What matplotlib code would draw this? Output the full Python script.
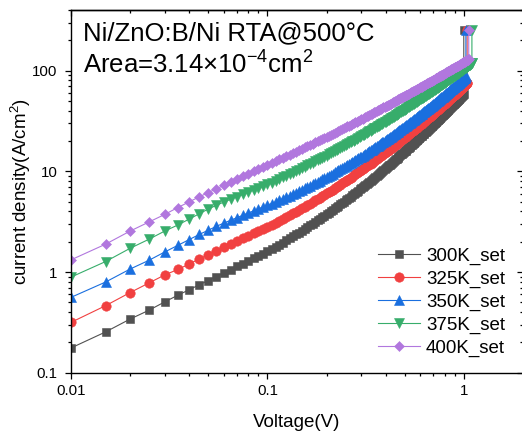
import matplotlib
matplotlib.use('Agg')
import matplotlib.pyplot as plt
from matplotlib.ticker import LogLocator, NullFormatter

plt.rcParams['font.family'] = ['Liberation Sans', 'DejaVu Sans']
plt.rcParams['mathtext.fontset'] = 'custom'
plt.rcParams['mathtext.rm'] = 'Liberation Sans'
plt.rcParams['mathtext.it'] = 'Liberation Sans:italic'

# Voltage sweep (V)
voltage = [
    0.01, 0.015, 0.02, 0.025, 0.03, 0.035, 0.04, 0.045, 0.05, 0.055, 0.06, 0.065, 0.07, 0.075, 0.08, 0.085, 0.09, 0.095,
    0.1, 0.105, 0.11, 0.115, 0.12, 0.125, 0.13, 0.135, 0.14, 0.145, 0.15, 0.155, 0.16, 0.165, 0.17, 0.175, 0.18, 0.185, 0.19, 0.195,
    0.2, 0.205, 0.21, 0.215, 0.22, 0.225, 0.23, 0.235, 0.24, 0.245, 0.25, 0.255, 0.26, 0.265, 0.27, 0.275, 0.28, 0.285, 0.29, 0.295,
    0.3, 0.305, 0.31, 0.315, 0.32, 0.325, 0.33, 0.335, 0.34, 0.345, 0.35, 0.355, 0.36, 0.365, 0.37, 0.375, 0.38, 0.385, 0.39, 0.395,
    0.4, 0.405, 0.41, 0.415, 0.42, 0.425, 0.43, 0.435, 0.44, 0.445, 0.45, 0.455, 0.46, 0.465, 0.47, 0.475, 0.48, 0.485, 0.49, 0.495,
    0.5, 0.505, 0.51, 0.515, 0.52, 0.525, 0.53, 0.535, 0.54, 0.545, 0.55, 0.555, 0.56, 0.565, 0.57, 0.575, 0.58, 0.585, 0.59, 0.595,
    0.6, 0.605, 0.61, 0.615, 0.62, 0.625, 0.63, 0.635, 0.64, 0.645, 0.65, 0.655, 0.66, 0.665, 0.67, 0.675, 0.68, 0.685, 0.69, 0.695,
    0.7, 0.705, 0.71, 0.715, 0.72, 0.725, 0.73, 0.735, 0.74, 0.745, 0.75, 0.755, 0.76, 0.765, 0.77, 0.775, 0.78, 0.785, 0.79, 0.795,
    0.8, 0.805, 0.81, 0.815, 0.82, 0.825, 0.83, 0.835, 0.84, 0.845, 0.85, 0.855, 0.86, 0.865, 0.87, 0.875, 0.88, 0.885, 0.89, 0.895,
    0.9, 0.905, 0.91, 0.915, 0.92, 0.925, 0.93, 0.935, 0.94, 0.945, 0.95, 0.955, 0.96, 0.965, 0.97, 0.975, 0.98, 0.985, 0.99, 0.995,
    1.0, 1.005, 1.01, 1.015, 1.02, 1.025, 1.03, 1.035, 1.04, 1.045, 1.05, 1.055, 1.06, 1.065, 1.07, 1.075, 1.08, 1.085, 1.09, 1.095,
    1.1,
]

# Current density (A/cm^2)
j_300K = [
    0.176, 0.254, 0.341, 0.418, 0.505, 0.588, 0.667, 0.745, 0.822, 0.902, 0.98, 1.058, 1.136, 1.214, 1.292, 1.369, 1.446, 1.523,
    1.60, 1.688, 1.778, 1.870, 1.963, 2.060, 2.158, 2.258, 2.360, 2.465,
    2.571, 2.680, 2.791, 2.904, 3.018, 3.135, 3.255, 3.378, 3.501, 3.626,
    3.754, 3.885, 4.017, 4.151, 4.288, 4.428, 4.568, 4.713, 4.858, 5.006,
    5.156, 5.308, 5.464, 5.621, 5.781, 5.941, 6.107, 6.271, 6.442, 6.612,
    6.785, 6.962, 7.141, 7.321, 7.504, 7.691, 7.877, 8.067, 8.262, 8.456,
    8.655, 8.853, 9.057, 9.262, 9.471, 9.678, 9.894, 10.11, 10.33, 10.55,
    10.77, 11.00, 11.22, 11.45, 11.68, 11.92, 12.16, 12.40, 12.65, 12.89,
    13.14, 13.39, 13.65, 13.91, 14.17, 14.43, 14.69, 14.96, 15.23, 15.50,
    15.78, 16.06, 16.34, 16.62, 16.91, 17.20, 17.50, 17.79, 18.09, 18.39,
    18.70, 19.00, 19.31, 19.62, 19.94, 20.26, 20.58, 20.91, 21.24, 21.56,
    21.90, 22.23, 22.57, 22.91, 23.26, 23.61, 23.95, 24.31, 24.67, 25.03,
    25.40, 25.76, 26.12, 26.50, 26.88, 27.25, 27.64, 28.02, 28.41, 28.80,
    29.19, 29.59, 29.99, 30.39, 30.80, 31.21, 31.62, 32.05, 32.46, 32.89,
    33.31, 33.73, 34.17, 34.61, 35.05, 35.49, 35.93, 36.39, 36.83, 37.30,
    37.76, 38.23, 38.68, 39.16, 39.63, 40.12, 40.59, 41.07, 41.56, 42.06,
    42.54, 43.05, 43.54, 44.05, 44.56, 45.07, 45.59, 46.10, 46.63, 47.14,
    47.66, 48.19, 48.72, 49.27, 49.82, 50.36, 50.93, 51.47, 52.03, 52.59,
    53.16, 53.73, 54.32, 54.88, 55.46, 56.04, 56.62, 57.21, 57.81, 58.41,
    59.02,
]

j_325K = [
    0.316, 0.463, 0.625, 0.78, 0.935, 1.06, 1.2, 1.35, 1.48, 1.63, 1.76, 1.893, 2.025, 2.156, 2.287, 2.417, 2.546, 2.674,
    2.80, 2.938, 3.079, 3.222, 3.368, 3.517, 3.667, 3.819, 3.975, 4.134,
    4.294, 4.456, 4.622, 4.790, 4.959, 5.133, 5.308, 5.485, 5.664, 5.846,
    6.030, 6.217, 6.406, 6.597, 6.792, 6.990, 7.188, 7.391, 7.595, 7.802,
    8.010, 8.221, 8.437, 8.652, 8.872, 9.092, 9.320, 9.543, 9.772, 10.00,
    10.24, 10.47, 10.72, 10.96, 11.20, 11.45, 11.69, 11.95, 12.21, 12.46,
    12.72, 12.98, 13.24, 13.51, 13.78, 14.05, 14.33, 14.61, 14.89, 15.17,
    15.46, 15.74, 16.03, 16.32, 16.62, 16.92, 17.22, 17.52, 17.83, 18.14,
    18.45, 18.76, 19.08, 19.40, 19.72, 20.05, 20.37, 20.70, 21.04, 21.37,
    21.71, 22.05, 22.39, 22.74, 23.09, 23.44, 23.80, 24.15, 24.51, 24.87,
    25.24, 25.61, 25.98, 26.35, 26.73, 27.11, 27.49, 27.88, 28.26, 28.65,
    29.05, 29.44, 29.83, 30.24, 30.64, 31.05, 31.46, 31.88, 32.29, 32.71,
    33.13, 33.55, 33.97, 34.40, 34.84, 35.28, 35.71, 36.16, 36.59, 37.05,
    37.50, 37.95, 38.41, 38.86, 39.31, 39.79, 40.26, 40.73, 41.20, 41.69,
    42.17, 42.63, 43.13, 43.63, 44.11, 44.61, 45.10, 45.60, 46.09, 46.62,
    47.11, 47.62, 48.14, 48.66, 49.17, 49.70, 50.23, 50.75, 51.29, 51.83,
    52.36, 52.92, 53.46, 54.00, 54.55, 55.11, 55.67, 56.22, 56.80, 57.35,
    57.92, 58.50, 59.06, 59.65, 60.25, 60.81, 61.42, 61.99, 62.58, 63.18,
    63.79, 64.40, 65.01, 65.61, 66.24, 66.85, 67.47, 68.09, 68.71, 69.34,
    69.98, 70.62, 71.26, 71.91, 72.55, 73.20, 73.86, 74.51, 75.16,
]

j_350K = [
    0.56, 0.795, 1.07, 1.31, 1.58, 1.84, 2.1, 2.36, 2.6, 2.84, 3.06, 3.262, 3.462, 3.658, 3.852, 4.044, 4.233, 4.42,
    4.60, 4.786, 4.973, 5.162, 5.353, 5.546, 5.742, 5.941, 6.144, 6.350,
    6.556, 6.766, 6.980, 7.195, 7.413, 7.635, 7.860, 8.085, 8.316, 8.545,
    8.780, 9.019, 9.256, 9.497, 9.743, 9.993, 10.24, 10.50, 10.75, 11.01,
    11.27, 11.53, 11.80, 12.07, 12.35, 12.62, 12.90, 13.18, 13.46, 13.75,
    14.03, 14.32, 14.62, 14.92, 15.21, 15.52, 15.82, 16.13, 16.44, 16.75,
    17.07, 17.39, 17.71, 18.04, 18.36, 18.70, 19.03, 19.36, 19.70, 20.05,
    20.39, 20.74, 21.09, 21.44, 21.80, 22.15, 22.52, 22.87, 23.25, 23.62,
    23.99, 24.36, 24.75, 25.13, 25.51, 25.90, 26.29, 26.68, 27.08, 27.48,
    27.88, 28.29, 28.70, 29.11, 29.52, 29.95, 30.37, 30.79, 31.21, 31.64,
    32.07, 32.51, 32.95, 33.38, 33.83, 34.28, 34.72, 35.18, 35.64, 36.09,
    36.56, 37.03, 37.49, 37.96, 38.43, 38.91, 39.39, 39.88, 40.36, 40.86,
    41.34, 41.84, 42.33, 42.84, 43.36, 43.86, 44.37, 44.89, 45.39, 45.93,
    46.45, 46.97, 47.52, 48.05, 48.57, 49.11, 49.66, 50.22, 50.76, 51.32,
    51.88, 52.42, 52.99, 53.57, 54.14, 54.70, 55.28, 55.87, 56.44, 57.05,
    57.62, 58.21, 58.82, 59.41, 60.01, 60.63, 61.24, 61.84, 62.46, 63.08,
    63.69, 64.32, 64.95, 65.58, 66.21, 66.85, 67.50, 68.14, 68.80, 69.44,
    70.10, 70.75, 71.42, 72.08, 72.77, 73.42, 74.12, 74.79, 75.48, 76.16,
    76.86, 77.56, 78.27, 78.96, 79.66, 80.35, 81.06, 81.77, 82.49, 83.21,
    83.95, 84.68, 85.41, 86.15, 86.88, 87.63,
]

j_375K = [
    0.89, 1.27, 1.72, 2.12, 2.55, 2.93, 3.36, 3.8, 4.22, 4.6, 4.95, 5.273, 5.591, 5.904, 6.212, 6.517, 6.819, 7.118,
    7.40, 7.72, 8.049, 8.378, 8.710, 9.043, 9.380, 9.718, 10.06, 10.41,
    10.75, 11.10, 11.45, 11.81, 12.16, 12.52, 12.89, 13.25, 13.61, 13.98,
    14.35, 14.73, 15.11, 15.48, 15.87, 16.25, 16.63, 17.02, 17.41, 17.81,
    18.20, 18.60, 19.00, 19.40, 19.81, 20.22, 20.63, 21.04, 21.45, 21.87,
    22.29, 22.71, 23.14, 23.57, 23.99, 24.43, 24.86, 25.30, 25.74, 26.18,
    26.63, 27.07, 27.52, 27.97, 28.42, 28.87, 29.34, 29.80, 30.26, 30.73,
    31.20, 31.67, 32.14, 32.61, 33.08, 33.56, 34.05, 34.53, 35.02, 35.51,
    35.99, 36.48, 36.98, 37.48, 37.97, 38.47, 38.97, 39.48, 39.99, 40.50,
    41.02, 41.53, 42.05, 42.57, 43.10, 43.63, 44.16, 44.68, 45.21, 45.74,
    46.28, 46.82, 47.36, 47.90, 48.45, 48.98, 49.53, 50.11, 50.66, 51.21,
    51.76, 52.32, 52.88, 53.46, 54.01, 54.59, 55.15, 55.74, 56.32, 56.89,
    57.47, 58.04, 58.63, 59.22, 59.82, 60.39, 60.99, 61.58, 62.17, 62.79,
    63.39, 63.99, 64.61, 65.21, 65.82, 66.42, 67.05, 67.67, 68.28, 68.91,
    69.54, 70.15, 70.79, 71.44, 72.08, 72.71, 73.34, 73.99, 74.60, 75.28,
    75.90, 76.56, 77.21, 77.87, 78.52, 79.19, 79.83, 80.49, 81.16, 81.83,
    82.48, 83.16, 83.83, 84.49, 85.17, 85.84, 86.53, 87.20, 87.90, 88.58,
    89.27, 89.95, 90.66, 91.35, 92.07, 92.75, 93.45, 94.17, 94.87, 95.56,
    96.27, 97.01, 97.72, 98.42, 99.16, 99.88, 100.6, 101.3, 102.0, 102.8,
    103.5, 104.3, 105.0, 105.7, 106.5, 107.2, 108.0, 108.7, 109.4, 110.2,
    110.9, 111.7, 112.5, 113.2, 114.0, 114.8, 115.5, 116.3, 117.0, 117.8,
    118.6,
]

j_400K = [
    1.32, 1.89, 2.55, 3.14, 3.73, 4.37, 4.98, 5.58, 6.15, 6.72, 7.28, 7.83, 8.376, 8.919, 9.46, 9.995, 10.53, 11.06,
    11.59, 12.10, 12.61, 13.13, 13.64, 14.16, 14.67, 15.19, 15.71, 16.23,
    16.75, 17.26, 17.79, 18.31, 18.83, 19.36, 19.89, 20.41, 20.94, 21.47,
    22.00, 22.54, 23.06, 23.60, 24.13, 24.67, 25.20, 25.75, 26.29, 26.84,
    27.37, 27.91, 28.46, 29.01, 29.56, 30.10, 30.66, 31.21, 31.76, 32.31,
    32.87, 33.42, 33.98, 34.54, 35.09, 35.66, 36.22, 36.78, 37.35, 37.92,
    38.48, 39.05, 39.62, 40.19, 40.76, 41.32, 41.91, 42.48, 43.06, 43.63,
    44.22, 44.79, 45.38, 45.94, 46.53, 47.12, 47.71, 48.30, 48.90, 49.49,
    50.06, 50.66, 51.25, 51.84, 52.43, 53.03, 53.61, 54.21, 54.81, 55.41,
    56.02, 56.62, 57.22, 57.82, 58.43, 59.04, 59.64, 60.27, 60.87, 61.48,
    62.10, 62.71, 63.33, 63.94, 64.56, 65.19, 65.79, 66.43, 67.04, 67.65,
    68.29, 68.91, 69.52, 70.15, 70.78, 71.41, 72.03, 72.66, 73.30, 73.92,
    74.56, 75.18, 75.82, 76.46, 77.11, 77.73, 78.39, 79.02, 79.66, 80.33,
    80.96, 81.60, 82.26, 82.90, 83.53, 84.18, 84.84, 85.50, 86.10, 86.79,
    87.43, 88.08, 88.73, 89.41, 90.07, 90.72, 91.39, 92.05, 92.69, 93.36,
    94.02, 94.68, 95.37, 96.03, 96.69, 97.37, 98.04, 98.70, 99.38, 100.05,
    100.7, 101.4, 102.1, 102.7, 103.4, 104.1, 104.8, 105.4, 106.1, 106.8,
    107.5, 108.2, 108.8, 109.5, 110.2, 110.9, 111.6, 112.3, 113.0, 113.6,
    114.4, 115.0, 115.8, 116.4, 117.2, 117.8, 118.5, 119.2, 119.9, 120.6,
    121.3, 122.0, 122.7, 123.4, 124.2, 124.8, 125.6, 126.3, 127.0, 127.7,
    128.4, 129.1, 129.8,
]

# set (compliance) point of each sweep
set_voltage = [1.0, 1.04, 1.025, 1.1, 1.06]
set_current = [255, 255, 255, 255, 255]

labels = ['300K_set', '325K_set', '350K_set', '375K_set', '400K_set']
colors = ['#515151', '#F14040', '#1A6FDF', '#37AD6B', '#B177DE']
markers = ['s', 'o', '^', 'v', 'D']
msizes = [5.8, 6.8, 7.6, 7.6, 5.0]
series = [j_300K, j_325K, j_350K, j_375K, j_400K]

W, H = 522, 432
fig = plt.figure(figsize=(W / 100, H / 100), dpi=100)
ax = fig.add_axes([71 / W, 59.3 / H, 451.9 / W, 362.7 / H])

for J, sv, sj, lab, c, m, ms in zip(series, set_voltage, set_current, labels, colors, markers, msizes):
    x = voltage[:len(J)] + [sv]
    y = J + [sj]
    ax.plot(x, y, color=c, lw=0.8, marker=m, ms=ms, mfc=c, mec=c, mew=0.4, label=lab)

ax.set_xscale('log')
ax.set_yscale('log')
ax.set_xlim(0.01, 2)
ax.set_ylim(0.1, 400)

xt = [0.01, 0.1, 1]
yt = [0.1, 1, 10, 100]
ax.set_xticks(xt)
ax.set_xticklabels(['0.01', '0.1', '1'])
ax.set_yticks(yt)
ax.set_yticklabels(['0.1', '1', '10', '100'])
for a in (ax.xaxis, ax.yaxis):
    a.set_minor_locator(LogLocator(base=10, subs=range(2, 10), numticks=30))
    a.set_minor_formatter(NullFormatter())

ax.tick_params(which='both', direction='out', top=False, right=False, width=0.9,
               labelsize=10.8, colors='black')
ax.tick_params(which='major', length=4.3)
ax.tick_params(which='minor', length=2.3)
ax.tick_params(axis='x', pad=3.5)
ax.tick_params(axis='y', pad=5.5)
for s in ax.spines.values():
    s.set_linewidth(1.0)

# mirrored axes (ticks pointing inward)
top = ax.secondary_xaxis('top')
top.set_xticks(xt)
top.xaxis.set_minor_locator(LogLocator(base=10, subs=range(2, 10), numticks=30))
top.xaxis.set_minor_formatter(NullFormatter())
top.tick_params(which='both', direction='in', labeltop=False, width=0.9)
top.tick_params(which='major', length=4.3)
top.tick_params(which='minor', length=2.3)
top.spines['top'].set_linewidth(1.0)

right = ax.secondary_yaxis('right')
right.set_yticks(yt)
right.yaxis.set_minor_locator(LogLocator(base=10, subs=range(2, 10), numticks=30))
right.yaxis.set_minor_formatter(NullFormatter())
right.tick_params(which='both', direction='in', labelright=False, width=0.9)
right.tick_params(which='major', length=4.3)
right.tick_params(which='minor', length=2.3)
right.spines['right'].set_linewidth(1.0)

ax.set_xlabel('Voltage(V)', fontsize=13.5, labelpad=11.5)
ax.set_ylabel(r'current density(A/cm$^{\mathregular{2}}$)', fontsize=13.5, labelpad=-1)

fig.text(83 / W, 1 - 40.7 / H, 'Ni/ZnO:B/Ni RTA@500°C', fontsize=18.5, ha='left', va='baseline')
fig.text(83 / W, 1 - 74 / H, r'Area=3.14×10$^{\mathregular{-4}}$cm$^{\mathregular{2}}$',
         fontsize=18.5, ha='left', va='baseline')

ax.legend(loc='upper left', bbox_to_anchor=(378 / W, 1 - 247.5 / H), bbox_transform=fig.transFigure,
          frameon=False, fontsize=13.5, handlelength=2.24, handletextpad=0.32, labelspacing=0.30,
          borderpad=0, borderaxespad=0, numpoints=1)

fig.savefig('out.png', dpi=100)
